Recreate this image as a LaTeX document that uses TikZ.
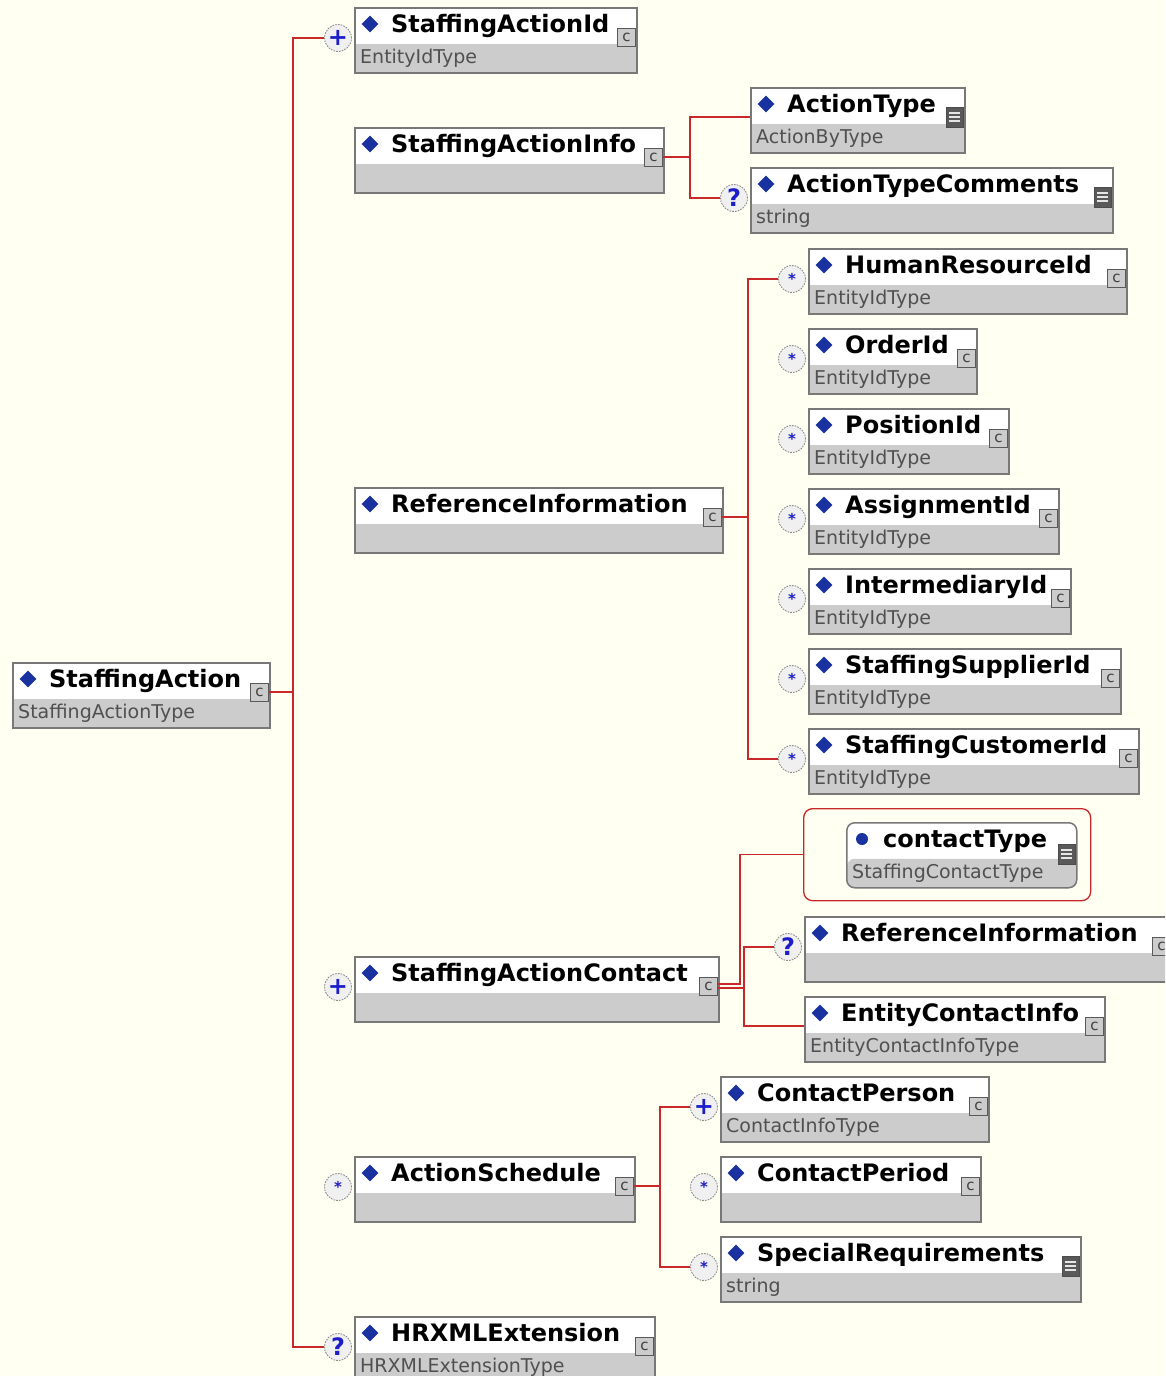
\documentclass[tikz,border=0pt]{standalone}
\usepackage{fontspec}
\setmainfont{DejaVu Sans}
\usepackage{xcolor}
\usepackage{tikz}
\usetikzlibrary{positioning,shapes.geometric}

\definecolor{bgcol}{RGB}{255,255,242}
\definecolor{cred}{RGB}{200,40,40}
\definecolor{dblue}{RGB}{25,50,160}
\definecolor{cblue}{RGB}{30,30,200}
\definecolor{boxgray}{RGB}{120,120,120}
\definecolor{bandgray}{RGB}{204,204,204}
\definecolor{typegray}{RGB}{80,80,80}

% one schema element: name, left, top, right, title, type, icon style
\newcommand{\xsdelem}[7]{%
  \node[elbox, minimum width=#4-#2] (#1) at (#2,#3) {};
  \node[dmd] (#1-d) at ([xshift=16pt,yshift=-17pt]#1.north west) {};
  \node[elname] (#1-n) at ([xshift=37pt,yshift=-25pt]#1.north west) {#5};
  \node[eltype] (#1-t) at ([xshift=6pt,yshift=-56pt]#1.north west) {#6};
  \node[#7] (#1-i) at ([xshift=-11pt,yshift=-30pt]#1.north east) {};
}

\begin{document}
\begin{tikzpicture}[
  x=1pt, y=-1pt,
  conn/.style={draw=cred, line width=1.4pt},
  elbox/.style={draw=boxgray, fill=white, line width=1.5pt, minimum height=65pt, inner sep=0pt, anchor=north west,
    path picture={\fill[bandgray] ([yshift=-36pt]path picture bounding box.north west) rectangle (path picture bounding box.south east);}},
  dmd/.style={diamond, fill=dblue, minimum width=17pt, minimum height=17pt, inner sep=0pt},
  adot/.style={circle, fill=dblue, minimum size=12pt, inner sep=0pt},
  elname/.style={anchor=base west, inner sep=0pt, font=\bfseries\fontsize{24}{24}\selectfont},
  eltype/.style={anchor=base west, inner sep=0pt, text=typegray, font=\fontsize{19}{19}\selectfont},
  cicon/.style={draw=black!65, fill=bandgray, line width=1pt, minimum size=18pt, inner sep=0pt, text=black!75,
    font=\fontsize{15}{15}\selectfont, execute at begin node={c}},
  licon/.style={draw=black!70, fill=black!65, line width=1pt, minimum width=17pt, minimum height=20pt, inner sep=0pt,
    path picture={\foreach \k in {-4,0,4} \draw[white!80!gray, line width=1.4pt] ([xshift=3pt,yshift=\k pt]path picture bounding box.west) -- ([xshift=-3pt,yshift=\k pt]path picture bounding box.east);}},
  card/.style={circle, draw=black!45, dash pattern=on 1.6pt off 1.2pt, fill=black!6, line width=0.9pt, minimum size=27pt,
    inner sep=0pt, text=cblue, font=\bfseries\fontsize{24}{24}\selectfont},
  starcard/.style={card, font=\bfseries\fontsize{15}{15}\selectfont},
  grpbox/.style={draw=cred, line width=1.3pt, rounded corners=9pt, minimum width=287pt, minimum height=92pt, inner sep=0pt, anchor=north west}
]
\useasboundingbox (0,0) rectangle (1165,1376);
\clip (0,0) rectangle (1165,1376);
\fill[bgcol] (0,0) rectangle (1165,1376);

% root and first level
\xsdelem{sa}{12}{662}{269}{StaffingAction}{StaffingActionType}{cicon}
\xsdelem{said}{354}{7}{636}{StaffingActionId}{EntityIdType}{cicon}
\xsdelem{sainfo}{354}{127}{663}{StaffingActionInfo}{}{cicon}
\xsdelem{ri}{354}{487}{722}{ReferenceInformation}{}{cicon}
\xsdelem{sac}{354}{956}{718}{StaffingActionContact}{}{cicon}
\xsdelem{as}{354}{1156}{634}{ActionSchedule}{}{cicon}
\xsdelem{hrx}{354}{1316}{654}{HRXMLExtension}{HRXMLExtensionType}{cicon}

% StaffingActionInfo children
\xsdelem{at}{750}{87}{964}{ActionType}{ActionByType}{licon}
\xsdelem{atc}{750}{167}{1112}{ActionTypeComments}{string}{licon}

% ReferenceInformation children
\xsdelem{hr}{808}{248}{1126}{HumanResourceId}{EntityIdType}{cicon}
\xsdelem{oid}{808}{328}{976}{OrderId}{EntityIdType}{cicon}
\xsdelem{pid}{808}{408}{1008}{PositionId}{EntityIdType}{cicon}
\xsdelem{aid}{808}{488}{1058}{AssignmentId}{EntityIdType}{cicon}
\xsdelem{iid}{808}{568}{1070}{IntermediaryId}{EntityIdType}{cicon}
\xsdelem{ssid}{808}{648}{1120}{StaffingSupplierId}{EntityIdType}{cicon}
\xsdelem{scid}{808}{728}{1138}{StaffingCustomerId}{EntityIdType}{cicon}

% StaffingActionContact children
\node[grpbox] (grp) at (803,808) {};
\node[elbox, rounded corners=8pt, minimum width=230pt] (ct) at (846,822) {};
\node[adot] (ct-d) at ([xshift=16pt,yshift=-17pt]ct.north west) {};
\node[elname] (ct-n) at ([xshift=37pt,yshift=-25pt]ct.north west) {contactType};
\node[eltype] (ct-t) at ([xshift=6pt,yshift=-56pt]ct.north west) {StaffingContactType};
\node[licon] (ct-i) at ([xshift=-11pt,yshift=-32pt]ct.north east) {};
\xsdelem{ri2}{804}{916}{1171}{ReferenceInformation}{}{cicon}
\xsdelem{eci}{804}{996}{1104}{EntityContactInfo}{EntityContactInfoType}{cicon}

% ActionSchedule children
\xsdelem{cp}{720}{1076}{988}{ContactPerson}{ContactInfoType}{cicon}
\xsdelem{cper}{720}{1156}{980}{ContactPeriod}{}{cicon}
\xsdelem{sr}{720}{1236}{1080}{SpecialRequirements}{string}{licon}

% cardinality marks
\node[card] (c-said) at ([xshift=-16pt,yshift=-31pt]said.north west) {+};
\node[card] (c-atc) at ([xshift=-16pt,yshift=-31pt]atc.north west) {?};
\foreach \e in {hr,oid,pid,aid,iid,ssid,scid,as,cper,sr}
  \node[starcard] (c-\e) at ([xshift=-16pt,yshift=-31pt]\e.north west) {*};
\node[card] (c-sac) at ([xshift=-16pt,yshift=-31pt]sac.north west) {+};
\node[card] (c-ri2) at ([xshift=-16pt,yshift=-31pt]ri2.north west) {?};
\node[card] (c-cp) at ([xshift=-16pt,yshift=-31pt]cp.north west) {+};
\node[card] (c-hrx) at ([xshift=-16pt,yshift=-31pt]hrx.north west) {?};

% connectors
\coordinate (t0) at (293,0);
\coordinate (t1) at (690,0);
\coordinate (t2) at (748,0);
\coordinate (t3) at (740,0);
\coordinate (t4) at (744,0);
\coordinate (t5) at (660,0);

\draw[conn] (sa-i.east) -- (sa-i.east -| t0);
\draw[conn] (c-said.west) -- (c-said.west -| t0) -- (c-hrx.west -| t0) -- (c-hrx.west);

\draw[conn] (sainfo-i.east) -- (sainfo-i.east -| t1);
\draw[conn] (at-i -| at.west) -- (at-i -| t1) -- (c-atc.west -| t1) -- (c-atc.west);

\draw[conn] (ri-i.east) -- (ri-i.east -| t2);
\draw[conn] (c-hr.west) -- (c-hr.west -| t2) -- (c-scid.west -| t2) -- (c-scid.west);

\draw[conn] ([yshift=2pt]sac-i.east) -- ([yshift=2pt]sac-i.east -| t3) -- (grp.west -| t3) -- (grp.west);
\draw[conn] ([yshift=-2pt]sac-i.east) -- ([yshift=-2pt]sac-i.east -| t4);
\draw[conn] (c-ri2.west) -- (c-ri2.west -| t4) -- (eci-i -| t4) -- (eci-i -| eci.west);

\draw[conn] (as-i.east) -- (as-i.east -| t5);
\draw[conn] (c-cp.west) -- (c-cp.west -| t5) -- (c-sr.west -| t5) -- (c-sr.west);
\end{tikzpicture}
\end{document}
